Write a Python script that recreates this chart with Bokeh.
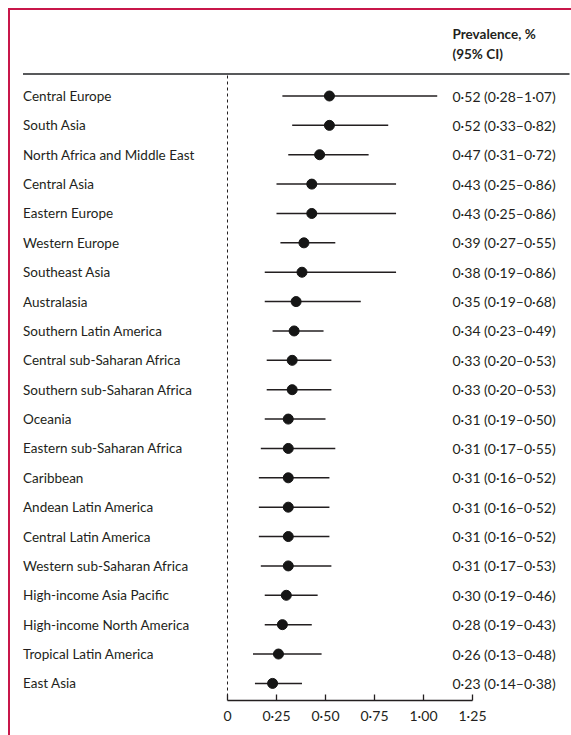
from bokeh.plotting import figure
from bokeh.models import Range1d, FixedTicker, LinearAxis, ColumnDataSource
from bokeh.core.properties import value
from bokeh.embed import file_html
from bokeh.resources import INLINE

regions = ["Central Europe", "South Asia", "North Africa and Middle East", "Central Asia",
           "Eastern Europe", "Western Europe", "Southeast Asia", "Australasia",
           "Southern Latin America", "Central sub-Saharan Africa", "Southern sub-Saharan Africa",
           "Oceania", "Eastern sub-Saharan Africa", "Caribbean", "Andean Latin America",
           "Central Latin America", "Western sub-Saharan Africa", "High-income Asia Pacific",
           "High-income North America", "Tropical Latin America", "East Asia"]
prev = [0.52, 0.52, 0.47, 0.43, 0.43, 0.39, 0.38, 0.35, 0.34, 0.33, 0.33,
        0.31, 0.31, 0.31, 0.31, 0.31, 0.31, 0.30, 0.28, 0.26, 0.23]
lo = [0.28, 0.33, 0.31, 0.25, 0.25, 0.27, 0.19, 0.19, 0.23, 0.20, 0.20,
      0.19, 0.17, 0.16, 0.16, 0.16, 0.17, 0.19, 0.19, 0.13, 0.14]
hi = [1.07, 0.82, 0.72, 0.86, 0.86, 0.55, 0.86, 0.68, 0.49, 0.53, 0.53,
      0.50, 0.55, 0.52, 0.52, 0.52, 0.53, 0.46, 0.43, 0.48, 0.38]
ticks = [0, 0.25, 0.5, 0.75, 1.0, 1.25]
tick_labels = ["0", "0·25", "0·50", "0·75", "1·00", "1·25"]
header = ["Prevalence, %", "(95% CI)"]

def fmt(v):
    return f"{v:.2f}".replace(".", "·")

n = len(regions)
ypos = [n - 1 - i for i in range(n)]
ci_text = [f"{fmt(p)} ({fmt(a)}–{fmt(b)})" for p, a, b in zip(prev, lo, hi)]

src = ColumnDataSource(dict(region=regions, prev=prev, lo=lo, hi=hi, y=ypos, ci=ci_text))

W, H = 571, 735
FONT = "Lato"
FS = "13.5px"
TXT = "#231f20"
RED = "#c8174a"

# layout constants (pixels within the figure)
x0_px = 227.0      # pixel of value 0
px_per_unit = 196.0
row_px = 29.37
top_row_px = 95.5
axis_px = 699.5

x_start = -x0_px / px_per_unit
x_end = (W - x0_px) / px_per_unit
y_top = (n - 1) + top_row_px / row_px
y_bot = y_top - H / row_px

def xd(px):
    return (px - x0_px) / px_per_unit

def yd(px):
    return y_top - px / row_px

p = figure(width=W, height=H, output_backend="svg", toolbar_location=None,
           x_range=Range1d(x_start, x_end), y_range=Range1d(y_bot, y_top),
           min_border_left=0, min_border_right=0, min_border_top=0,
           min_border_bottom=0, x_axis_location=None, y_axis_location=None)
p.grid.visible = False
p.outline_line_color = None
p.background_fill_color = "white"
p.border_fill_color = "white"

ax = LinearAxis(ticker=FixedTicker(ticks=ticks), bounds=(0, 1.25), fixed_location=yd(axis_px),
                major_label_overrides={t: l for t, l in zip(ticks, tick_labels)})
ax.major_tick_in = 6
ax.major_tick_out = 0
ax.minor_tick_line_color = None
ax.axis_line_color = TXT
ax.axis_line_width = 1.3
ax.major_tick_line_color = TXT
ax.major_tick_line_width = 1.3
ax.major_label_text_font = FONT
ax.major_label_text_font_size = "14px"
ax.major_label_text_color = TXT
ax.major_label_standoff = 7
p.add_layout(ax, "below")

# frame border (top and left)
p.segment(x0=[xd(8.5)], y0=[yd(7.5)], x1=[xd(8.5)], y1=[y_bot], line_color=RED, line_width=2)
p.segment(x0=[xd(7.5)], y0=[yd(8.5)], x1=[x_end], y1=[yd(8.5)], line_color=RED, line_width=2)

# header
lx = xd(22.5)
vx = xd(452)
p.text(x=[vx, vx], y=[yd(33), yd(53.5)], text=header, text_font=value(FONT),
       text_font_style="bold", text_font_size=FS, text_color=TXT, text_baseline="middle")
p.segment(x0=[lx], y0=[yd(73.5)], x1=[xd(569)], y1=[yd(73.5)], line_color="#58595b", line_width=2)

# reference line at 0
p.segment(x0=[0], y0=[yd(75)], x1=[0], y1=[yd(axis_px)], line_color=TXT,
          line_width=1, line_dash="3 3")

# rows
p.text(x=lx, y="y", text="region", source=src, text_font=value(FONT),
       text_font_size=FS, text_color=TXT, text_baseline="middle")
p.text(x=vx, y="y", text="ci", source=src, text_font=value(FONT),
       text_font_size="14px", text_color=TXT, text_baseline="middle")
p.segment(x0="lo", y0="y", x1="hi", y1="y", source=src, line_color=TXT, line_width=1.5)
p.scatter(x="prev", y="y", source=src, size=10, fill_color="#151515", line_color="#151515")

open("out.html", "w").write(file_html(p, INLINE))
